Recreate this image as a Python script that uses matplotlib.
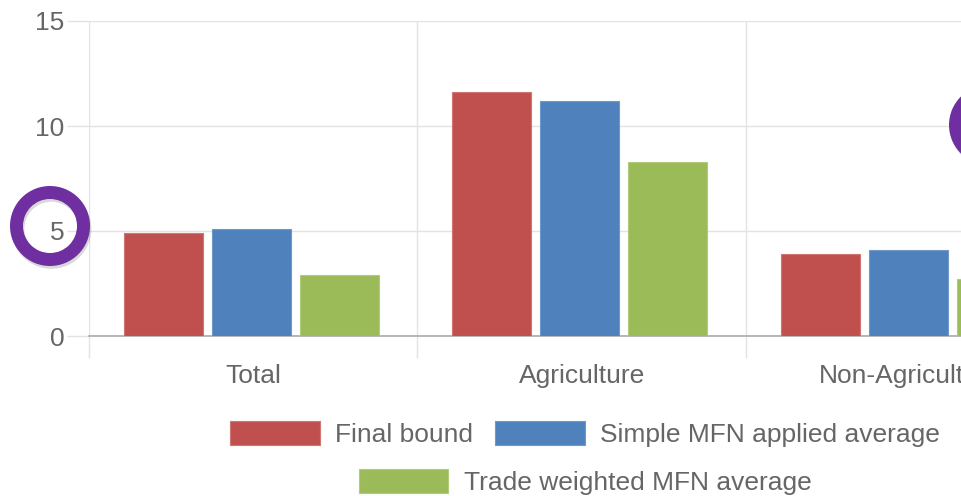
import matplotlib.pyplot as plt
import matplotlib.patheffects as pe
from matplotlib.patches import Annulus
import numpy as np

# tariff averages (%) per product group
categories = ["Total", "Agriculture", "Non-Agriculture"]
final_bound = [4.9, 11.6, 3.9]
simple_mfn = [5.1, 11.2, 4.1]
trade_weighted = [2.9, 8.3, 2.7]
series_names = ["Final bound", "Simple MFN applied average", "Trade weighted MFN average"]
y_ticks = [0, 5, 10, 15]

plt.rcParams['font.family'] = ['Liberation Sans', 'DejaVu Sans']
text_color = "#666666"
grid_color = "#e3e3e3"

fig = plt.figure(figsize=(9.62, 4.96), dpi=100, facecolor="white")
# the plot area runs on past the right edge, so the last group is cut off
ax = fig.add_axes([89 / 962, 160 / 496, 985.5 / 962, 315 / 496])

x = np.arange(len(categories)) - 0.006
step = 0.2675
width = 0.24
b1 = ax.bar(x - step, final_bound, width, color="#c0504d", edgecolor="#d07572", linewidth=0.8, zorder=3)
b2 = ax.bar(x, simple_mfn, width, color="#4f81bd", edgecolor="#6f98cb", linewidth=0.8, zorder=3)
b3 = ax.bar(x + step, trade_weighted, width, color="#9bbb59", edgecolor="#b0cb7a", linewidth=0.8, zorder=3)

ax.set_xlim(-0.5, len(categories) - 0.5)
ax.set_ylim(0, 15)

# grid lines, with the tick marks drawn in the same light grey
ax.set_yticks(y_ticks)
ax.set_xticks(np.arange(len(categories)))
ax.set_xticklabels(categories)
ax.set_xticks(np.arange(len(categories)) - 0.5, minor=True)
ax.grid(axis="y", color=grid_color, linewidth=1, zorder=0)
ax.grid(axis="x", which="minor", color=grid_color, linewidth=1, zorder=0)
ax.tick_params(axis="y", length=15.5, width=1, color=grid_color, labelcolor=text_color,
               labelsize=19, pad=2)
ax.tick_params(axis="x", which="major", length=0, labelcolor=text_color, labelsize=19, pad=20)
ax.tick_params(axis="x", which="minor", length=15.5, width=1, color=grid_color)
ax.yaxis.get_major_ticks()[0].tick1line.set_color("#aaaaaa")

for side in ["top", "right", "left"]:
    ax.spines[side].set_visible(False)
ax.spines["bottom"].set_color("#aaaaaa")
ax.spines["bottom"].set_linewidth(1.2)

# legend: two entries on the first row, one centred below
leg_x = 585 / 962
leg_style = dict(frameon=False, fontsize=19, labelcolor=text_color, loc="center",
                 handlelength=3.4, handleheight=1.06, handletextpad=0.57,
                 columnspacing=0.83, borderpad=0, borderaxespad=0)
fig.legend([b1, b2], series_names[:2], ncol=2, bbox_to_anchor=(leg_x, 1 - 434 / 496),
           bbox_transform=fig.transFigure, **leg_style)
fig.legend([b3], series_names[2:], ncol=1, bbox_to_anchor=(leg_x, 1 - 482 / 496),
           bbox_transform=fig.transFigure, **leg_style)

# purple highlight rings
ring_effects = [pe.withSimplePatchShadow(offset=(1, -2), shadow_rgbFace="k", alpha=0.15)]
for cx, cy in [(50, 226), (989, 125)]:
    ring = Annulus((cx / 100, (496 - cy) / 100), 0.40, 0.13, transform=fig.dpi_scale_trans,
                   facecolor="#6f2fa0", edgecolor="none", zorder=5)
    ring.set_path_effects(ring_effects)
    fig.patches.append(ring)

plt.savefig("out.png", dpi=100, facecolor="white")
